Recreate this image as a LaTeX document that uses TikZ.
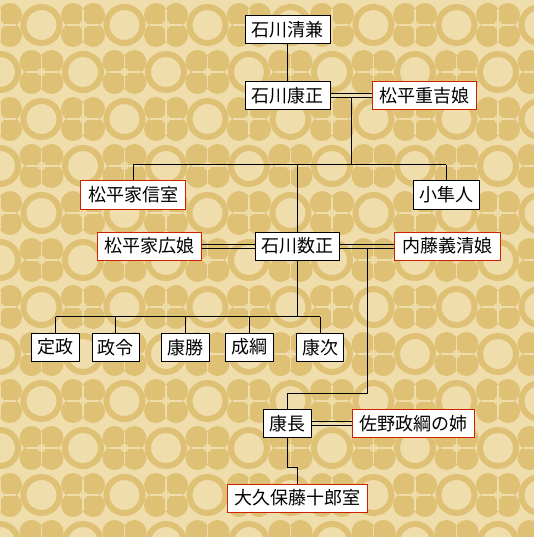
\documentclass[tikz,border=0pt]{standalone}
\usepackage{fontspec}
\newfontfamily\jp{Noto Sans CJK JP}
\usetikzlibrary{calc}
\definecolor{bglight}{RGB}{239,222,172}
\definecolor{bgdark}{RGB}{223,193,118}
\definecolor{redb}{RGB}{204,34,0}
\newcommand{\myflower}[2]{%
  \fill[bgdark] ({#1-10},{#2-10}) circle (12) ({#1+10},{#2-10}) circle (12)
                ({#1-10},{#2+10}) circle (12) ({#1+10},{#2+10}) circle (12);
  \draw[bglight, line width=1.2pt] ({#1-16},{#2}) -- ({#1+16},{#2}) ({#1},{#2-16}) -- ({#1},{#2+16});
  \draw[bglight, line width=1.2pt] ({#1},{#2}) circle (3.5);
}
\newcommand{\mycloud}[2]{%
  \draw[bgdark, line width=6pt] ({#1},{#2}) circle (18);
}
\begin{document}
\begin{tikzpicture}[x=1pt,y=-1pt,
  person/.style={draw=black, fill=white, line width=1pt, minimum height=28pt, inner sep=0pt,
                 font=\jp\fontsize{18}{18}\selectfont},
  spouse/.style={person, draw=redb},
  link/.style={line width=1pt, draw=black}]
\useasboundingbox (0,0) rectangle (534,537);
\fill[bglight] (0,0) rectangle (534,537);
\begin{scope}
\clip (0,0) rectangle (534,537);
\foreach \i in {-1,...,7}{
  \foreach \j in {-1,...,6}{
    \pgfmathsetmacro{\xa}{83*\i}
    \pgfmathsetmacro{\ya}{25+94*\j}
    \pgfmathsetmacro{\xb}{83*\i+41.5}
    \pgfmathsetmacro{\yb}{72+94*\j}
    \mycloud{\xb}{\ya}
    \mycloud{\xa}{\yb}
    \myflower{\xa}{\ya}
    \myflower{\xb}{\yb}
  }
}
\end{scope}

% nodes
\node[person, minimum width=85pt] (kiyokane) at (287.5,30) {石川清兼};
\node[person, minimum width=85pt] (yasumasa) at (287.5,96) {石川康正};
\node[spouse, minimum width=104pt] (shigeyoshi) at (424.7,96) {松平重吉娘};
\node[spouse, minimum width=104.7pt] (ienobu) at (133.3,195) {松平家信室};
\node[person, minimum width=66pt] (hayato) at (446.3,195) {小隼人};
\node[person, minimum width=84.3pt] (kazumasa) at (297.8,246) {石川数正};
\node[spouse, minimum width=104pt] (iehiro) at (149.7,246) {松平家広娘};
\node[spouse, minimum width=105.7pt] (naito) at (447.2,246) {内藤義清娘};
\node[person, minimum width=47.6pt] (sadamasa) at (55.5,347.2) {定政};
\node[person, minimum width=46.7pt] (masanori) at (115.7,347.2) {政令};
\node[person, minimum width=47.6pt] (yasukatsu) at (185.5,347.2) {康勝};
\node[person, minimum width=48.3pt] (naritsuna) at (249.2,347.2) {成綱};
\node[person, minimum width=46.6pt] (yasutsugu) at (320,347.2) {康次};
\node[person, minimum width=48.4pt] (yasunaga) at (287.5,423.3) {康長};
\node[spouse, minimum width=121.6pt] (sano) at (413.5,423.3) {佐野政綱の姉};
\node[spouse, minimum width=140pt] (okubo) at (297.3,498) {大久保藤十郎室};

% helper levels
\coordinate (b1) at (0,165);
\coordinate (b2) at (0,316.7);
\coordinate (b3) at (0,393.3);
\coordinate (b4) at (0,467.3);

% lines
\draw[link] (kiyokane.south) -- (yasumasa.north);
\draw[link] ([yshift=2pt]yasumasa.east) -- ([yshift=2pt]shigeyoshi.west);
\draw[link] ([yshift=-2pt]yasumasa.east) -- ([yshift=-2pt]shigeyoshi.west);
\coordinate (m1) at ($(yasumasa.east)!0.5!(shigeyoshi.west)+(0,2)$);
\draw[link] (m1) -- (m1 |- b1);
\draw[link] (ienobu.north |- b1) -- (hayato.north |- b1);
\draw[link] (ienobu.north |- b1) -- (ienobu.north);
\draw[link] (hayato.north |- b1) -- (hayato.north);
\draw[link] (kazumasa.north |- b1) -- (kazumasa.north);

\draw[link] ([yshift=2pt]iehiro.east) -- ([yshift=2pt]kazumasa.west);
\draw[link] ([yshift=-2pt]iehiro.east) -- ([yshift=-2pt]kazumasa.west);
\draw[link] ([yshift=2pt]kazumasa.east) -- ([yshift=2pt]naito.west);
\draw[link] ([yshift=-2pt]kazumasa.east) -- ([yshift=-2pt]naito.west);
\coordinate (m2) at ($(kazumasa.east)!0.5!(naito.west)+(0,2)$);

\draw[link] (kazumasa.south) -- (kazumasa.south |- b2);
\draw[link] (sadamasa.north |- b2) -- (yasutsugu.north |- b2);
\foreach \c in {sadamasa,masanori,yasukatsu,naritsuna,yasutsugu}{
  \draw[link] (\c.north |- b2) -- (\c.north);
}

\draw[link] (m2) -- (m2 |- b3) -- (yasunaga.north |- b3) -- (yasunaga.north);
\draw[link] ([yshift=2pt]yasunaga.east) -- ([yshift=2pt]sano.west);
\draw[link] ([yshift=-2pt]yasunaga.east) -- ([yshift=-2pt]sano.west);
\draw[link] (yasunaga.south) -- (yasunaga.south |- b4) -- (okubo.north |- b4) -- (okubo.north);
\end{tikzpicture}
\end{document}
